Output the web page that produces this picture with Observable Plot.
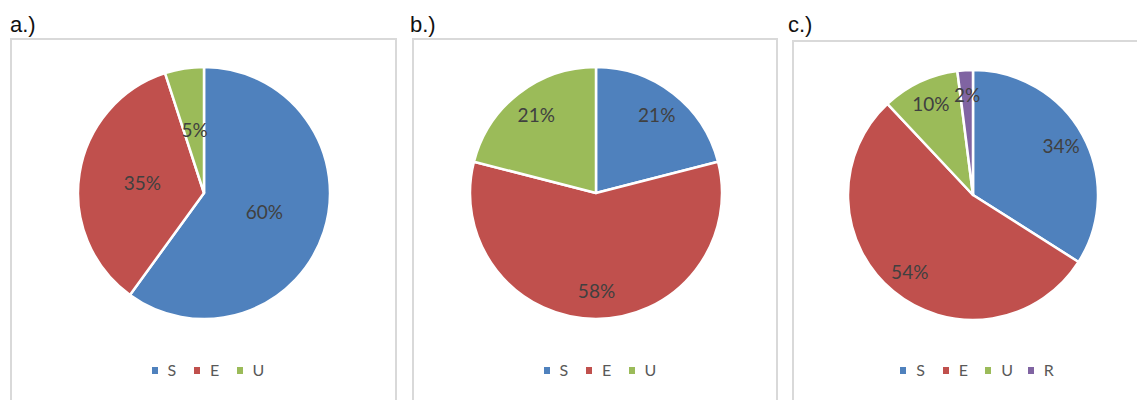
<!DOCTYPE html>
<html>
<head>
<meta charset="utf-8">
<script src="https://cdn.jsdelivr.net/npm/d3@7"></script>
<script src="https://cdn.jsdelivr.net/npm/@observablehq/plot@0.6"></script>
<style>
  html, body { margin: 0; padding: 0; background: #fff; }
  body { width: 1137px; height: 400px; position: relative; overflow: hidden; }
  .panel { position: absolute; border: 2px solid #d9d9d9; box-sizing: border-box; height: 420px; }
  .title { position: absolute; font-family: "Liberation Sans", Arial, sans-serif; font-size: 22px; line-height: 22px; color: #111; }
  .chart { position: absolute; }
  .legend { position: absolute; display: flex; font-family: Lato, "Open Sans", sans-serif; font-size: 16px; color: #595959; height: 18px; line-height: 18px; }
  .legend .item { display: flex; align-items: center; width: 42.5px; }
  .legend .item:last-child { width: auto; }
  .legend .sw { width: 6px; height: 7px; margin-right: 10px; }
</style>
</head>
<body>
<script>
// ---- data ----
const categories = ["S", "E", "U", "R"];
const colors = ["#4F81BD", "#C0504D", "#9BBB59", "#8064A2"];
const panelTitles = ["a.)", "b.)", "c.)"];
const valuesA = [60, 35, 5];
const valuesB = [21, 58, 21];
const valuesC = [34, 54, 10, 2];

// ---- layout (page pixels) ----
const panels = [
  {values: valuesA, title: panelTitles[0], left: 10, top: 38, width: 387, titleX: 10, cx: 204, cy: 193, r: 126, labelR: 0.5},
  {values: valuesB, title: panelTitles[1], left: 412, top: 38, width: 366, titleX: 410, cx: 596, cy: 193, r: 126, labelR: 0.78},
  {values: valuesC, title: panelTitles[2], left: 792, top: 40, width: 360, titleX: 788, cx: 973, cy: 195, r: 125, labelR: 0.8}
];

const colorScale = Plot.scale({color: {type: "ordinal", domain: categories, range: colors}});

function pieChart(p) {
  const cats = categories.slice(0, p.values.length);
  const arcs = d3.pie().sort(null).value(d => d)(p.values);
  const data = arcs.map((a, i) => ({
    cat: cats[i], value: p.values[i],
    start: a.startAngle, end: a.endAngle, mid: (a.startAngle + a.endAngle) / 2
  }));
  const w = Math.min(p.width, 1137 - p.left);
  const h = 400 - p.top;
  const cx = p.cx - p.left, cy = p.cy - p.top;
  const slices = (index, scales) => {
    const x0 = scales.x(0), y0 = scales.y(0), rr = scales.x(1) - x0;
    const arc = d3.arc().innerRadius(0).outerRadius(rr);
    const g = d3.create("svg:g").attr("transform", `translate(${x0},${y0})`);
    g.selectAll("path").data(data).join("path")
      .attr("d", d => arc({startAngle: d.start, endAngle: d.end}))
      .attr("fill", d => colorScale.apply(d.cat))
      .attr("stroke", "#fff")
      .attr("stroke-width", 2.5)
      .attr("stroke-linejoin", "round");
    return g.node();
  };
  return Plot.plot({
    width: w, height: h, margin: 0,
    style: {background: "transparent", overflow: "visible"},
    x: {domain: [-1, 1], range: [cx - p.r, cx + p.r], axis: null},
    y: {domain: [-1, 1], range: [cy + p.r, cy - p.r], axis: null},
    marks: [
      slices,
      Plot.text(data, {
        x: d => p.labelR * Math.sin(d.mid),
        y: d => p.labelR * Math.cos(d.mid),
        text: d => d.value + "%",
        fill: "#404040",
        fontSize: 19,
        fontFamily: "Lato, 'Open Sans', sans-serif"
      })
    ]
  });
}

for (const p of panels) {
  const panel = document.createElement("div");
  panel.className = "panel";
  panel.style.left = p.left + "px";
  panel.style.top = p.top + "px";
  panel.style.width = p.width + "px";
  document.body.appendChild(panel);

  const t = document.createElement("div");
  t.className = "title";
  t.textContent = p.title;
  t.style.left = p.titleX + "px";
  t.style.top = "14px";
  document.body.appendChild(t);

  const chart = pieChart(p);
  chart.classList.add("chart");
  chart.style.left = p.left + "px";
  chart.style.top = p.top + "px";
  document.body.appendChild(chart);

  const cats = categories.slice(0, p.values.length);
  const lg = document.createElement("div");
  lg.className = "legend";
  for (const c of cats) {
    const it = document.createElement("div");
    it.className = "item";
    const sw = document.createElement("span");
    sw.className = "sw";
    sw.style.background = colorScale.apply(c);
    const tx = document.createElement("span");
    tx.textContent = c;
    it.appendChild(sw); it.appendChild(tx);
    lg.appendChild(it);
  }
  document.body.appendChild(lg);
  const lw = lg.getBoundingClientRect().width;
  lg.style.left = (p.cx + 4 - lw / 2) + "px";
  lg.style.top = "361px";
}
</script>
</body>
</html>
